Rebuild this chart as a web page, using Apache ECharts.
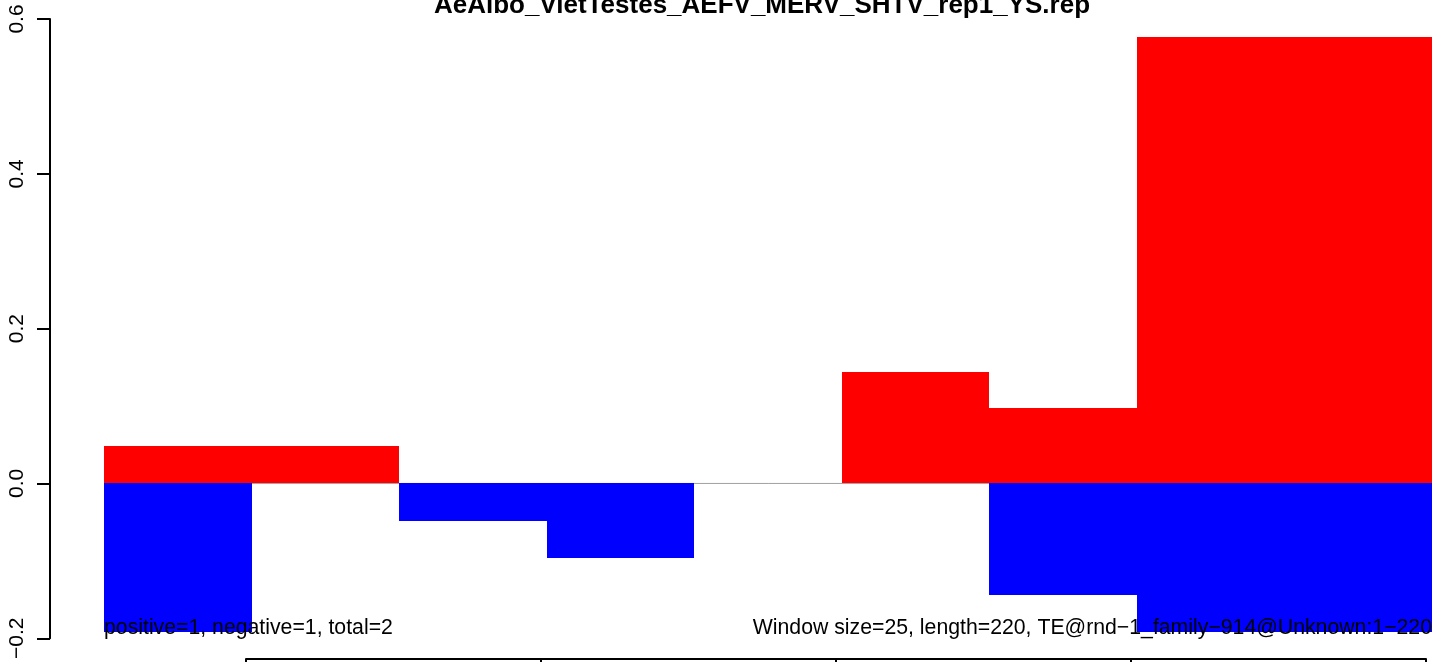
<!DOCTYPE html>
<html>
<head>
<meta charset="utf-8">
<script src="https://cdn.jsdelivr.net/npm/echarts@6/dist/echarts.min.js"></script>
<style>
  html, body { margin: 0; padding: 0; background: #ffffff; }
  #chart { width: 1433px; height: 662px; }
</style>
</head>
<body>
<div id="chart"></div>
<script>
// ---- data ----
const windowStart = [26, 51, 76, 101, 126, 151, 176, 201, 226];
const windowEnd   = [51, 76, 101, 126, 151, 176, 201, 226, 251];
const positiveVals = [0.048, 0.048, 0, 0, 0, 0.144, 0.097, 0.577, 0.577];
const negativeVals = [-0.192, 0, -0.048, -0.096, 0, 0, -0.144, -0.192, -0.192];
const yTickLabels = ['\u22120.2', '0.0', '0.2', '0.4', '0.6'];
const xTickValues = [50, 100, 150, 200, 250];
const titleText = 'AeAlbo_VietTestes_AEFV_MERV_SHTV_rep1_YS.rep';
const leftNote = 'positive=1, negative=1, total=2';
const rightNote = 'Window size=25, length=220, TE@rnd\u22121_family\u2212914@Unknown:1\u2212220';

const FONT = '"Liberation Sans", Arial, Helvetica, sans-serif';

function barData(vals) {
  const out = [];
  for (let i = 0; i < vals.length; i++) {
    if (vals[i] !== 0) out.push([windowStart[i], windowEnd[i], vals[i]]);
  }
  return out;
}

function renderBar(params, api) {
  const s = api.value(0), e = api.value(1), v = api.value(2);
  const p1 = api.coord([s, v]);
  const p2 = api.coord([e, 0]);
  const x0 = Math.round(p1[0]), x1 = Math.round(p2[0]);
  const ya = Math.round(p1[1]), yb = Math.round(p2[1]);
  const y = Math.min(ya, yb);
  const h = Math.abs(yb - ya);
  return {
    type: 'rect',
    shape: { x: x0, y: y, width: x1 - x0, height: h },
    style: { fill: api.visual('color') }
  };
}

const chart = echarts.init(document.getElementById('chart'), null, { renderer: 'canvas' });

const option = {
  animation: false,
  backgroundColor: '#ffffff',
  textStyle: { fontFamily: FONT },
  grid: [
    { left: 50, right: 0, top: 19, bottom: 22, containLabel: false },
    { left: 246, right: 7, top: 640, bottom: 3, containLabel: false }
  ],
  xAxis: [
    { type: 'value', gridIndex: 0, min: 16.78, max: 251.19, show: false },
    {
      type: 'value', gridIndex: 1, min: xTickValues[0], max: xTickValues[xTickValues.length - 1],
      interval: 50, position: 'bottom',
      axisLine: { show: true, onZero: false, lineStyle: { color: '#000', width: 2 } },
      axisTick: { show: true, length: 12, lineStyle: { color: '#000', width: 2 } },
      axisLabel: { show: false },
      splitLine: { show: false }
    }
  ],
  yAxis: [
    {
      type: 'value', gridIndex: 0, min: -0.2, max: 0.6, interval: 0.2,
      axisLine: { show: true, lineStyle: { color: '#000', width: 2 } },
      axisTick: { show: true, length: 13, lineStyle: { color: '#000', width: 2 } },
      axisLabel: {
        show: true, rotate: 90, margin: 22, color: '#000',
        fontSize: 21, fontFamily: FONT,
        formatter: function (v, i) { return yTickLabels[i]; }
      },
      splitLine: { show: false }
    },
    { type: 'value', gridIndex: 1, min: 0, max: 1, show: false }
  ],
  series: [
    {
      type: 'line', xAxisIndex: 0, yAxisIndex: 0, z: 1,
      data: [[windowStart[0], 0], [windowEnd[windowEnd.length - 1], 0]],
      showSymbol: false, symbol: 'none',
      lineStyle: { color: '#a0a0a0', width: 1 },
      silent: true
    },
    {
      type: 'custom', xAxisIndex: 0, yAxisIndex: 0, z: 2,
      renderItem: renderBar, itemStyle: { color: '#ff0000' },
      encode: { x: [0, 1], y: 2 },
      data: barData(positiveVals)
    },
    {
      type: 'custom', xAxisIndex: 0, yAxisIndex: 0, z: 2,
      renderItem: renderBar, itemStyle: { color: '#0000ff' },
      encode: { x: [0, 1], y: 2 },
      data: barData(negativeVals)
    }
  ],
  graphic: [
    {
      type: 'text', x: 762, y: 19, z: 100,
      style: { text: titleText, fontFamily: FONT, fontWeight: 'bold', fontSize: 26,
               fill: '#000', align: 'center', verticalAlign: 'bottom' }
    },
    {
      type: 'text', x: 104, y: 639, z: 100,
      style: { text: leftNote, fontFamily: FONT, fontSize: 21.25, fill: '#000',
               align: 'left', verticalAlign: 'bottom' }
    },
    {
      type: 'text', x: 1432, y: 639, z: 100,
      style: { text: rightNote, fontFamily: FONT, fontSize: 21.25, fill: '#000',
               align: 'right', verticalAlign: 'bottom' }
    }
  ]
};

chart.setOption(option);
</script>
</body>
</html>
